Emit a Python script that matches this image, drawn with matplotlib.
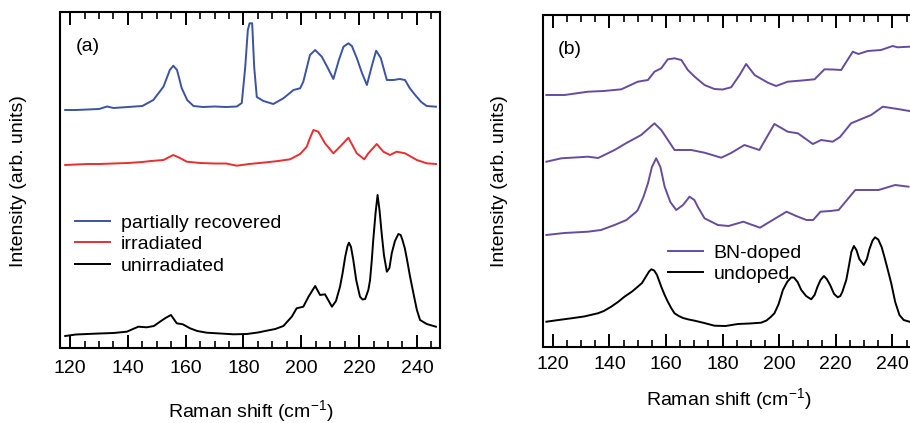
import matplotlib
matplotlib.use("Agg")
import matplotlib.pyplot as plt
from matplotlib.ticker import MultipleLocator

plt.rcParams['font.family'] = ['Liberation Sans', 'DejaVu Sans']
plt.rcParams['mathtext.fontset'] = 'custom'
plt.rcParams['mathtext.rm'] = 'Liberation Sans'
plt.rcParams['mathtext.it'] = 'Liberation Sans:italic'
FS = 14

# ---- panel (a): Raman spectra, stacked (arb. units) ----
rec_x = [118.3, 122, 126, 130, 132.8, 135, 140, 145, 148.8, 152.3, 154.5, 155.7, 157, 158.6,
         160.5, 162.7, 166, 170, 174, 177.7, 179.4, 180.6, 181.5, 182.1, 183, 183.7, 184.6,
         186.9, 190.3, 193.8, 197.3, 199.6, 200.7, 203, 204.8, 207.1, 209, 211.1, 213, 214.6,
         216.3, 217.5, 219.2, 221, 222.7, 224.5, 225.9, 227.5, 229.6, 231.9, 234, 235.9,
         237.5, 239.4, 241.5, 243.4, 246.6]
rec_y = [238, 238, 238.5, 239, 241.5, 240, 241, 242, 248, 261.3, 278, 282.3, 278, 260,
         248, 242, 241, 241.5, 241, 241.5, 245, 281, 318, 324.7, 324.7, 281, 251,
         247, 244, 249.7, 258, 259.7, 266.3, 293, 298, 291.3, 281, 269, 288, 301.3,
         304.7, 302, 290, 275, 263, 283, 297.3, 290, 268, 268, 269, 268,
         260, 253, 246, 242, 241.3]

irr_x = [118.3, 122, 126, 130, 135, 140, 145, 148, 152.3, 155.7, 158, 160.4, 165, 170, 174,
         177.7, 182, 188, 192, 196.1, 199.6, 201.9, 203, 204.2, 205.9, 208.2, 211.1, 213.4,
         216.3, 219.2, 221.8, 223.2, 226.1, 228.4, 230.7, 233, 235.9, 240, 243.4, 246.6]
irr_y = [183, 183.5, 184, 184, 184.5, 185, 186, 187, 188, 193, 190, 186.3, 185, 184.5, 184.5,
         182.3, 184, 185.7, 187, 188.7, 194, 201.3, 210, 218, 216.3, 204.7, 194.7, 201.3,
         210.3, 194.7, 188.7, 194.7, 204, 196.3, 193, 196.3, 194.7, 188, 184.7, 184]

unirr_x = [118.3, 122, 126, 130, 135, 139.6, 143.6, 146.5, 149, 151.1, 153, 154.9, 156.9, 159,
           161.5, 164, 167.3, 172, 176.5, 181.1, 185, 188, 191, 193.8, 196.7, 198.4, 200.7,
           202.5, 204.8, 206.5, 208.2, 210.6, 212, 213.4, 214.3, 215.2, 216, 216.5, 217.2,
           218, 219, 220.3, 221.2, 222.1, 223.2, 223.8, 224.4, 224.9, 225.7, 226.4, 227.1,
           227.8, 228.6, 229.6, 230.5, 231.3, 232.4, 233.6, 234.4, 235, 235.8, 236.5, 237.6,
           238.8, 240, 241.1, 243.4, 246.6]
unirr_y = [12, 13.5, 14, 14.5, 15, 16.3, 21.3, 20.7, 22, 26.3, 30, 33, 24.7, 23.7,
           19.7, 17, 15.3, 14.5, 13.7, 14, 15.5, 17.3, 19, 22, 31.3, 39.7, 41.3,
           51.3, 62, 53, 53.7, 41.3, 47, 61.3, 75, 91.3, 102, 105.3, 101,
           88, 68, 51.3, 48.5, 49, 58, 68, 88, 108, 135, 153, 137,
           115, 93, 76.3, 80, 94.7, 107, 114, 113, 108, 100, 89.7, 72,
           54.7, 38, 28, 24, 21.3]

# ---- panel (b): BN-doped spectra (three) and undoped ----
bn1_x = [117.7, 124.1, 132.4, 138, 144.2, 150, 153.6, 155.9, 158.3, 160.6, 163, 165.4, 167.7,
         170.1, 173.6, 177.1, 180, 183, 186, 188.3, 191.3, 196, 198.9, 203, 208, 212.5, 216,
         219, 221.9, 226, 228, 231.3, 236, 240.1, 241.9, 246]
bn1_y = [252, 252, 255.3, 256, 257.7, 265.3, 267, 275.3, 278.7, 287.7, 288.7, 287, 277,
         270.3, 262, 258, 257.5, 259.7, 272, 283, 272, 264.3, 261, 265.3, 266.5, 267.7, 277.7,
         277.5, 277, 295.3, 293, 296, 297, 301, 299.7, 300.3]

bn2_x = [117.7, 123, 132.4, 136, 141.8, 146, 151.2, 155.9, 158.3, 163, 168.9, 173.6, 179.5,
         183, 187.7, 193, 198.3, 203, 206.6, 211.9, 214.8, 218.9, 221.5, 225.4, 232.5, 236.6,
         241.9, 246]
bn2_y = [185.3, 188.7, 190.3, 189, 197, 204, 212, 223.7, 217, 197, 197, 194.3, 189.3,
         194, 202, 197, 223, 215.3, 213.7, 203, 207, 205.3, 210, 223.7, 232, 240.3,
         238, 236]

bn3_x = [117.7, 124, 132.4, 137, 141.8, 146, 149.5, 150, 152, 153.6, 155, 156.5, 158, 159.5,
         161.5, 163.6, 166, 168.3, 170, 171.2, 173.6, 178.3, 182.1, 187.3, 193.2, 196.7,
         202.6, 206, 209.6, 212, 214.6, 218, 221, 226.9, 231, 235.1, 241, 245.7]
bn3_y = [112, 114, 115.3, 117, 122, 127, 135.3, 137, 150, 163.7, 180, 188.7, 180, 160.3,
         145, 137, 142, 150.3, 147, 140.3, 128.7, 122, 121, 125.3, 119.3, 125.3,
         135.3, 131, 127, 127, 135.3, 136, 137, 157, 157, 157, 162, 160.3]

undoped_x = [117.7, 122, 126.5, 131, 135.9, 138, 140.6, 143, 145.3, 148, 150, 151.5, 152.8,
             154, 154.8, 155.8, 156.8, 158.3, 159.5, 160.5, 161.8, 163, 164.5, 166, 168,
             170.1, 173.5, 177.1, 181, 185.4, 189.5, 193.6, 195.5, 197, 198.3, 199.8, 201.3,
             202.8, 204.2, 205.2, 206.5, 207.8, 209.5, 211.3, 212.5, 213.5, 214.6, 215.8,
             216.8, 218, 219.4, 220.7, 221.6, 222.3, 223.7, 224.7, 225.5, 226.4, 227.3, 228.3,
             229.9, 231, 231.9, 233, 233.9, 235, 236.2, 237.2, 238.4, 239.6, 241, 242.5, 244,
             246]
undoped_y = [25.3, 27, 28.7, 30.5, 33.7, 36, 40.3, 45, 50.3, 55.5, 60.3, 64, 70,
             75.5, 77.7, 76.5, 72, 60.3, 52, 46, 39, 33.7, 31, 29, 27.5,
             26.3, 24, 21.3, 21, 23, 23.5, 24.3, 26.5, 30, 33.7, 43, 57,
             65, 69.5, 69.5, 65, 57, 51, 47.7, 52, 60, 67, 71,
             68, 62, 53, 49.7, 51, 55, 67, 82, 95, 101, 97, 88,
             82, 88, 98, 106.5, 109.7, 107.5, 100, 90, 77, 63.7, 45, 32, 27,
             25.3]

xticks = [120, 140, 160, 180, 200, 220, 240]

BLUE = '#3a53a4'
RED = '#ec2d2f'
PURPLE = '#664ca0'

fig = plt.figure(figsize=(9.10, 4.23), dpi=100)
W, H = 910.0, 423.0

ax_a = fig.add_axes([60 / W, (H - 348) / H, 380 / W, 336 / H])
ax_b = fig.add_axes([543 / W, (H - 347) / H, 372 / W, 332 / H])


def style(ax, ylim, pad):
    ax.set_xlim(116.5, 248)
    ax.set_ylim(*ylim)
    ax.set_yticks([])
    ax.set_xticks(xticks)
    ax.xaxis.set_minor_locator(MultipleLocator(5))
    ax.tick_params(axis='x', which='both', direction='in', top=True, bottom=True,
                   labelsize=FS, pad=pad, color='black')
    ax.tick_params(axis='x', which='major', length=9.5, width=1.4)
    ax.tick_params(axis='x', which='minor', length=5, width=1.2)
    for s in ax.spines.values():
        s.set_linewidth(1.5)
        s.set_color('black')


lw = 1.4
ax_a.plot(rec_x, rec_y, color=BLUE, lw=lw, label='partially recovered')
ax_a.plot(irr_x, irr_y, color=RED, lw=lw, label='irradiated')
ax_a.plot(unirr_x, unirr_y, color='black', lw=lw, label='unirradiated')
style(ax_a, (0, 336), 8.5)
ax_a.text(0.042, 0.897, '(a)', transform=ax_a.transAxes, ha='left', va='center', fontsize=FS)
ax_a.legend(loc='upper left', bbox_to_anchor=(0.0395, 0.399), frameon=False, fontsize=FS,
            handlelength=1.8, handletextpad=0.55, labelspacing=0.2, borderpad=0,
            borderaxespad=0)

ax_b.plot(bn1_x, bn1_y, color=PURPLE, lw=lw, label='BN-doped')
ax_b.plot(bn2_x, bn2_y, color=PURPLE, lw=lw)
ax_b.plot(bn3_x, bn3_y, color=PURPLE, lw=lw)
ax_b.plot(undoped_x, undoped_y, color='black', lw=lw, label='undoped')
style(ax_b, (0, 332), 6.5)
ax_b.text(0.0395, 0.896, '(b)', transform=ax_b.transAxes, ha='left', va='center', fontsize=FS)
ax_b.legend(loc='upper left', bbox_to_anchor=(0.336, 0.310), frameon=False, fontsize=FS,
            handlelength=1.8, handletextpad=0.55, labelspacing=0.2, borderpad=0,
            borderaxespad=0)

xlab = 'Raman shift (cm$^{-1}$)'
fig.text(251 / W, 1 - 411 / H, xlab, ha='center', va='center', fontsize=FS)
fig.text(729 / W, 1 - 399 / H, xlab, ha='center', va='center', fontsize=FS)
ylab = 'Intensity (arb. units)'
fig.text(19 / W, 1 - 181 / H, ylab, rotation=90, ha='center', va='center', fontsize=FS)
fig.text(499 / W, 1 - 181 / H, ylab, rotation=90, ha='center', va='center', fontsize=FS)

fig.savefig('out.png', dpi=100)
